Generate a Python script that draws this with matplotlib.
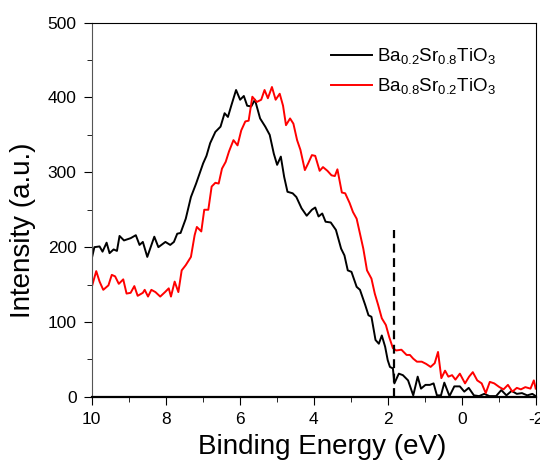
import matplotlib
matplotlib.use('Agg')
import matplotlib.pyplot as plt
from matplotlib.ticker import MultipleLocator

plt.rcParams['font.family'] = ['Liberation Sans', 'DejaVu Sans']
plt.rcParams['mathtext.fontset'] = 'custom'
plt.rcParams['mathtext.rm'] = 'Liberation Sans'
plt.rcParams['axes.unicode_minus'] = False

# Ba0.2Sr0.8TiO3 (black)
e_black = [10.0, 9.93, 9.79, 9.71, 9.6, 9.52, 9.41, 9.32, 9.25, 9.13, 8.95, 8.81, 8.71, 8.62, 8.5,
           8.31, 8.2, 8.01, 7.88, 7.78, 7.69, 7.6, 7.46, 7.32, 7.18, 6.99, 6.9, 6.8, 6.66, 6.52,
           6.41, 6.32, 6.23, 6.1, 5.99, 5.89, 5.8, 5.69, 5.59, 5.45, 5.31, 5.19, 5.08, 4.99, 4.89,
           4.8, 4.71, 4.57, 4.47, 4.33, 4.19, 4.05, 3.96, 3.87, 3.77, 3.68, 3.54, 3.4, 3.26, 3.17,
           3.08, 2.98, 2.84, 2.75, 2.61, 2.52, 2.44, 2.33, 2.24, 2.16, 2.07, 2.0, 1.94, 1.86, 1.82,
           1.7, 1.59, 1.45, 1.31, 1.19, 1.1, 0.98, 0.86, 0.76, 0.67, 0.56, 0.47, 0.33, 0.2, 0.05,
           -0.07, -0.19, -0.33, -0.47, -0.61, -0.75, -0.93, -1.07, -1.21, -1.35, -1.49, -1.63,
           -1.77, -1.91, -2.0]
i_black = [185, 200, 201, 194, 206, 192, 197, 195, 215, 209, 212, 216, 203, 207, 187,
           214, 200, 207, 203, 207, 218, 219, 238, 267, 285, 312, 322, 339, 354, 361,
           379, 374, 389, 410, 397, 402, 389, 388, 397, 372, 361, 350, 325, 310, 321,
           294, 274, 272, 267, 252, 242, 250, 253, 241, 245, 234, 233, 223, 198, 189,
           169, 167, 147, 143, 123, 109, 107, 76, 71, 82, 67, 49, 40, 38, 18,
           31, 29, 22, 2, 27, 11, 16, 16, 18, 2, 2, 19, 1, 14, 14,
           7, 12, 2, 1, 4, 1, 1, 9, 2, 8, 4, 5,
           2, 4, 1]

# Ba0.8Sr0.2TiO3 (red)
e_red = [10.0, 9.88, 9.79, 9.69, 9.55, 9.46, 9.37, 9.27, 9.15, 9.06, 8.95, 8.85, 8.76, 8.62, 8.57,
         8.48, 8.39, 8.28, 8.15, 8.02, 7.92, 7.86, 7.76, 7.66, 7.57, 7.46, 7.32, 7.22, 7.16, 7.04,
         6.96, 6.85, 6.76, 6.66, 6.57, 6.48, 6.38, 6.29, 6.17, 6.06, 5.96, 5.85, 5.76, 5.66, 5.54,
         5.42, 5.33, 5.24, 5.13, 5.03, 4.92, 4.83, 4.75, 4.64, 4.55, 4.45, 4.36, 4.24, 4.15, 4.05,
         3.96, 3.84, 3.75, 3.63, 3.52, 3.43, 3.36, 3.24, 3.15, 3.03, 2.94, 2.84, 2.75, 2.66, 2.56,
         2.44, 2.35, 2.26, 2.16, 2.05, 1.96, 1.86, 1.77, 1.63, 1.49, 1.4, 1.31, 1.21, 1.08, 0.96,
         0.84, 0.73, 0.64, 0.55, 0.45, 0.36, 0.26, 0.17, 0.05, -0.09, -0.2, -0.3, -0.42, -0.54,
         -0.65, -0.76, -0.88, -1.02, -1.13, -1.25, -1.37, -1.49, -1.6, -1.72, -1.86, -1.95, -2.0]
i_red = [147, 168, 154, 143, 149, 163, 161, 151, 157, 138, 139, 148, 135, 139, 143,
         134, 143, 140, 134, 140, 145, 134, 154, 140, 169, 176, 187, 216, 227, 221,
         250, 250, 281, 286, 285, 305, 314, 328, 343, 336, 356, 368, 369, 401, 394,
         397, 410, 399, 414, 397, 405, 389, 363, 372, 365, 343, 330, 303, 312, 323,
         322, 302, 307, 302, 296, 295, 304, 273, 272, 259, 247, 238, 218, 198, 169,
         158, 138, 123, 105, 96, 80, 65, 62, 63, 56, 56, 51, 47, 47, 44,
         40, 45, 60, 25, 35, 27, 29, 23, 31, 18, 27, 33, 22, 18,
         5, 20, 18, 13, 10, 16, 7, 12, 10, 13, 11, 22, 11]

edge_e = 1.83
edge_top = 223

fig = plt.figure(figsize=(5.4, 4.62), dpi=100)
ax = fig.add_axes([0.170, 0.141, 0.822, 0.810])

ax.plot(e_black, i_black, color='black', lw=1.4, label=r'Ba$_{0.2}$Sr$_{0.8}$TiO$_{3}$')
ax.plot(e_red, i_red, color='red', lw=1.4, label=r'Ba$_{0.8}$Sr$_{0.2}$TiO$_{3}$')
ax.plot([edge_e, edge_e], [0, edge_top], color='black', ls=(0, (4, 2.5)), lw=1.6)

ax.set_xlim(10, -2)
ax.set_ylim(0, 500)
ax.xaxis.set_major_locator(MultipleLocator(2))
ax.xaxis.set_minor_locator(MultipleLocator(1))
ax.yaxis.set_major_locator(MultipleLocator(100))
ax.yaxis.set_minor_locator(MultipleLocator(50))
ax.tick_params(which='both', direction='out', labelsize=12.5, pad=5)
ax.tick_params(which='major', length=6)
ax.tick_params(which='minor', length=3.5)
ax.spines['left'].set_color('#555555')
ax.spines['bottom'].set_linewidth(1.6)

ax.set_xlabel('Binding Energy (eV)', fontsize=20)
ax.xaxis.set_label_coords(0.518, -0.100)
ax.set_ylabel('Intensity (a.u.)', fontsize=20)
ax.yaxis.set_label_coords(-0.125, 0.446)

ax.legend(loc='upper left', frameon=False, fontsize=13.5, handlelength=2.15,
          handletextpad=0.3, bbox_to_anchor=(0.54, 0.935), borderpad=0,
          borderaxespad=0, labelspacing=0.5)

fig.savefig('out.png', dpi=100)
